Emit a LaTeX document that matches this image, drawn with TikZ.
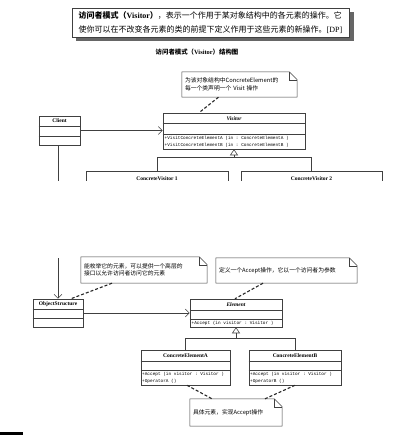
\documentclass[tikz,border=0pt]{standalone}
\usepackage{fontspec}
\setmainfont{Liberation Serif}
\setmonofont{Liberation Mono}
\newfontfamily\cjk{Noto Sans CJK SC}
\usetikzlibrary{arrows.meta}
\tikzset{
  ln/.style={draw=black!75, line width=0.55pt},
  classbox/.style={ln, rectangle, inner sep=0pt},
  cname/.style={font=\fontsize{5.5}{6}\selectfont\bfseries, inner sep=0pt},
  member/.style={font=\ttfamily\fontsize{4.4}{5}\selectfont, inner sep=0pt, anchor=west},
  notebox/.style={inner xsep=3pt, inner ysep=0pt, align=left, font=\cjk\fontsize{5.8}{7.5}\selectfont},
  assoc/.style={ln, -{Straight Barb[length=4pt,width=8pt]}},
  gen/.style={ln, -{Triangle[open,length=6pt,width=8pt]}},
  notelink/.style={draw=black!85, line width=1.1pt, dash pattern=on 3pt off 2pt},
}
\newcommand\umlnoteframe[1]{%
  \draw[ln] (#1.south west) -- (#1.north west) -- ([xshift=-8pt]#1.north east)
    -- ([yshift=-8pt]#1.north east) -- (#1.south east) -- cycle;
  \draw[ln] ([xshift=-8pt]#1.north east) -- ([xshift=-8pt,yshift=-8pt]#1.north east)
    -- ([yshift=-8pt]#1.north east);}
\begin{document}
\begin{tikzpicture}[x=1pt,y=-1pt]
\useasboundingbox (0,0) rectangle (400,435);
\fill[white] (0,0) rectangle (400,435);

% title box with shadow
\fill[black!60] (76,12) rectangle (354,41.5);
\node[ln, fill=white, minimum width=277pt, minimum height=29pt, inner sep=0pt]
  (title) at (210.5,22.5) {};
\node[align=left, inner sep=0pt, font=\fontsize{8}{14}\selectfont] (titletext) at (title.center)
  {{\cjk\bfseries 访问者模式（}{\bfseries Visitor}{\cjk\bfseries ）}{\cjk ，表示一个作用于某对象结构中的各元素的操作。它}\\
   {\cjk 使你可以在不改变各元素的类的前提下定义作用于这些元素的新操作。}[DP]};
\node[inner sep=0pt, font=\fontsize{6.4}{7}\selectfont] (subtitle) at (197,52)
  {{\cjk\bfseries 访问者模式（}{\bfseries Visitor}{\cjk\bfseries ）结构图}};

% note 1
\node[notebox, text width=109pt, minimum height=25pt] (n1) at (239.5,84.5)
  {为该对象结构中ConcreteElement的\\每一个类声明一个 Visit 操作};
\umlnoteframe{n1}

% Visitor
\node[classbox, minimum width=142pt, minimum height=36pt] (visitor) at (234,131) {};
\draw[ln] (visitor.west |- 0,123) -- (visitor.east |- 0,123);
\draw[ln] (visitor.west |- 0,134) -- (visitor.east |- 0,134);
\node[cname, font=\fontsize{5.5}{6}\selectfont\bfseries\itshape] (visitorname) at (234,118.3) {Visitor};
\node[member] (vm1) at (164.5,138.5) {+VisitConcreteElementA (in   :  ConcreteElementA )};
\node[member] (vm2) at (164.5,145) {+VisitConcreteElementB (in   :  ConcreteElementB )};
\draw[notelink] ([xshift=-21pt]n1.south) -- ([xshift=-35pt]visitor.north);

% Client
\node[classbox, minimum width=41pt, minimum height=29pt] (client) at (59.5,130.5) {};
\draw[ln] (client.west |- 0,126) -- (client.east |- 0,126);
\draw[ln] (client.west |- 0,136) -- (client.east |- 0,136);
\node[cname] (clientname) at (59.5,121) {Client};
\draw[assoc] (client.east) -- (client.east -| visitor.west);

% concrete visitors (cut at page edge)
\begin{scope}
\clip (0,0) rectangle (400,180.5);
\node[classbox, minimum width=142pt, minimum height=20pt, anchor=north] (cv1) at (157,171) {};
\node[classbox, minimum width=141pt, minimum height=20pt, anchor=north] (cv2) at (311.5,171) {};
\node[cname] (cv1name) at (157,178.2) {ConcreteVisitor 1};
\node[cname] (cv2name) at (311.5,178.2) {ConcreteVisitor 2};
\coordinate (cut1) at (58,181);
\draw[ln] (client.south -| cut1) -- (cut1);
\end{scope}
\coordinate (g1) at (234,157);
\draw[gen] (g1) -- (visitor.south);
\draw[ln] (cv1.north) -- (cv1.north |- g1) -- (cv2.north |- g1) -- (cv2.north);

% ---- lower part ----
\node[notebox, text width=120pt, minimum height=26pt] (n2) at (144,270)
  {能枚举它的元素，可以提供一个高层的\\接口以允许访问者访问它的元素};
\umlnoteframe{n2}
\node[notebox, text width=135pt, minimum height=25pt] (n3) at (286.5,270.5)
  {定义一个Accept操作，它以一个访问者为参数};
\umlnoteframe{n3}

% ObjectStructure
\node[classbox, minimum width=50pt, minimum height=28pt] (objs) at (58,313) {};
\draw[ln] (objs.west |- 0,309) -- (objs.east |- 0,309);
\draw[ln] (objs.west |- 0,318) -- (objs.east |- 0,318);
\node[cname] (objsname) at (58,304) {ObjectStructure};
\coordinate (cut2) at (58,258);
\draw[assoc] (cut2) -- (objs.north);

% Element
\node[classbox, minimum width=92pt, minimum height=28pt] (element) at (236,313) {};
\draw[ln] (element.west |- 0,310) -- (element.east |- 0,310);
\draw[ln] (element.west |- 0,319) -- (element.east |- 0,319);
\node[cname, font=\fontsize{5.5}{6}\selectfont\bfseries\itshape] (elementname) at (236,304.5) {Element};
\node[member] (em1) at (191.5,323) {+Accept (in visitor  : Visitor )};
\draw[assoc] (objs.east) -- (element.west);

\draw[notelink] ([xshift=-32pt]n2.south) -- ([xshift=13pt]objs.north);
\draw[notelink] ([xshift=-23.5pt]n3.south) -- ([xshift=-1pt]element.north);

% ConcreteElementA / B
\node[classbox, minimum width=89pt, minimum height=35pt] (cea) at (185.5,367.5) {};
\draw[ln] (cea.west |- 0,361) -- (cea.east |- 0,361);
\draw[ln] (cea.west |- 0,370) -- (cea.east |- 0,370);
\node[cname] (ceaname) at (185.5,355.5) {ConcreteElementA};
\node[member] (ceam1) at (142,374.5) {+Accept (in visitor  : Visitor )};
\node[member] (ceam2) at (142,381) {+OperatorA ()};

\node[classbox, minimum width=92pt, minimum height=35pt] (ceb) at (295,367.5) {};
\draw[ln] (ceb.west |- 0,361) -- (ceb.east |- 0,361);
\draw[ln] (ceb.west |- 0,370) -- (ceb.east |- 0,370);
\node[cname] (cebname) at (295,355.5) {ConcreteElementB};
\node[member] (cebm1) at (250,374.5) {+Accept (in visitor  : Visitor )};
\node[member] (cebm2) at (250,381) {+OperatorB ()};

\coordinate (g2) at (236,338);
\draw[gen] (g2) -- (element.south);
\draw[ln] (cea.north) -- (cea.north |- g2) -- (ceb.north |- g2) -- (ceb.north);

% note 4
\node[notebox, text width=86pt, minimum height=27pt] (n4) at (236,412.5)
  {具体元素，实现Accept操作};
\umlnoteframe{n4}
\draw[notelink] ([xshift=1.5pt]cea.south) -- ([xshift=-24pt]n4.north);
\draw[notelink] (ceb.south) -- ([xshift=29pt]n4.north);

% scan edge mark
\fill[black] (0,432) rectangle (23,435);
\end{tikzpicture}
\end{document}
